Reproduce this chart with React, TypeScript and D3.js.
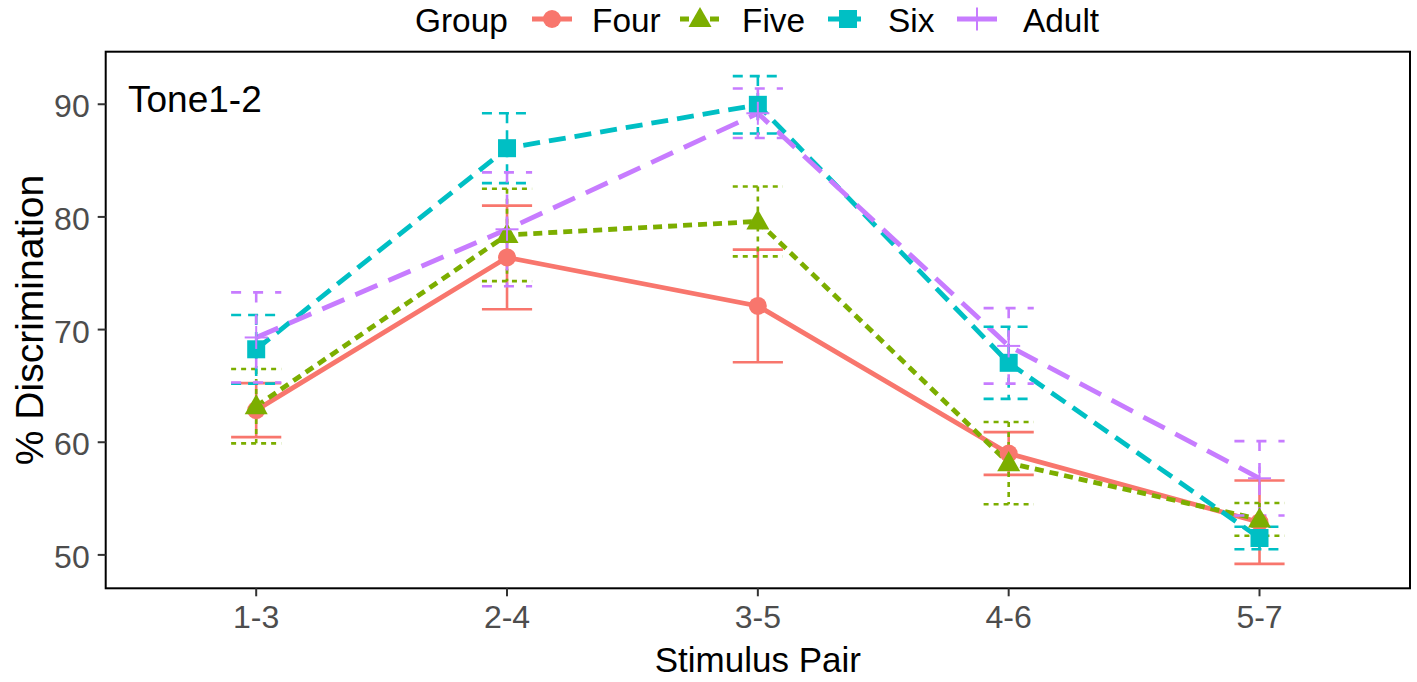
import React from "react";
import * as d3 from "d3";

const categories = ["1-3", "2-4", "3-5", "4-6", "5-7"];
const fourMean = [62.85, 76.4, 72.1, 59.0, 52.9];
const fourSe = [2.4, 4.6, 5.0, 1.9, 3.7];
const fiveMean = [63.2, 78.4, 79.6, 58.15, 53.15];
const fiveSe = [3.3, 4.1, 3.1, 3.65, 1.45];
const sixMean = [68.25, 86.1, 89.95, 67.05, 51.5];
const sixSe = [3.05, 3.1, 2.55, 3.2, 1.0];
const adultMean = [69.3, 78.9, 89.2, 68.55, 56.8];
const adultSe = [4.0, 5.05, 2.2, 3.35, 3.3];
const yTicks = [50, 60, 70, 80, 90];

const series = [
  { name: "Four", mean: fourMean, se: fourSe, color: "#F8766D", dash: "none", ebDash: "none", keyDash: "none", shape: "circle" },
  { name: "Five", mean: fiveMean, se: fiveSe, color: "#7CAE00", dash: "9 6", ebDash: "5 5", keyDash: "9 6", shape: "triangle" },
  { name: "Six", mean: sixMean, se: sixSe, color: "#00BFC4", dash: "17 9", ebDash: "10 7", keyDash: "13 7", shape: "square" },
  { name: "Adult", mean: adultMean, se: adultSe, color: "#C77CFF", dash: "24 12", ebDash: "10 12", keyDash: "none", shape: "cross" },
];

const W = 1417;
const H = 682;
const panel = { left: 105.7, right: 1410, top: 51.7, bottom: 588.3 };
const FONT = "Liberation Sans, Arial, sans-serif";

function Marker({ shape, cx, cy, color }: { shape: string; cx: number; cy: number; color: string }) {
  if (shape === "circle") return <circle cx={cx} cy={cy} r={9} fill={color} />;
  if (shape === "square") return <rect x={cx - 9} y={cy - 9} width={18} height={18} fill={color} />;
  if (shape === "triangle") {
    const s = 11.5;
    const pts = `${cx},${cy - s * 1.05} ${cx - s},${cy + s * 0.7} ${cx + s},${cy + s * 0.7}`;
    return <polygon points={pts} fill={color} />;
  }
  return (
    <g stroke={color} strokeWidth={2}>
      <line x1={cx - 11.5} x2={cx + 11.5} y1={cy} y2={cy} />
      <line x1={cx} x2={cx} y1={cy - 11.5} y2={cy + 11.5} />
    </g>
  );
}

export default function App() {
  const x = d3
    .scalePoint<string>()
    .domain(categories)
    .range([panel.left, panel.right])
    .padding(0.6);
  const yMin = 49.2;
  const yMax = 92.5;
  const ext = (yMax - yMin) * 0.05;
  const y = d3
    .scaleLinear()
    .domain([yMin - ext, yMax + ext])
    .range([panel.bottom, panel.top]);
  const capHalf = (x.step() * 0.2) / 2;

  const line = d3
    .line<number>()
    .x((_, i) => x(categories[i]) as number)
    .y((d) => y(d));

  const legendItems = [
    { keyX: 552, textX: 592 },
    { keyX: 700, textX: 742 },
    { keyX: 848, textX: 888 },
    { keyX: 977, textX: 1023 },
  ];

  return (
    <svg
      width={W}
      height={H}
      style={{ position: "absolute", left: 0, top: 0, background: "#fff" }}
      fontFamily={FONT}
    >
      <rect x={0} y={0} width={W} height={H} fill="#fff" />
      {series.map((s) => (
        <path
          key={"l" + s.name}
          d={line(s.mean) as string}
          fill="none"
          stroke={s.color}
          strokeWidth={4.8}
          strokeDasharray={s.dash}
        />
      ))}
      {series.map((s) => (
        <g key={"e" + s.name} stroke={s.color} strokeWidth={2.6} strokeDasharray={s.ebDash} fill="none">
          {categories.map((c, i) => {
            const cx = x(c) as number;
            const hi = y(s.mean[i] + s.se[i]);
            const lo = y(s.mean[i] - s.se[i]);
            return (
              <g key={c}>
                <line x1={cx - capHalf} x2={cx + capHalf} y1={hi} y2={hi} />
                <line x1={cx} x2={cx} y1={hi} y2={lo} />
                <line x1={cx - capHalf} x2={cx + capHalf} y1={lo} y2={lo} />
              </g>
            );
          })}
        </g>
      ))}
      {series.map((s) => (
        <g key={"p" + s.name}>
          {categories.map((c, i) => (
            <Marker key={c} shape={s.shape} cx={x(c) as number} cy={y(s.mean[i])} color={s.color} />
          ))}
        </g>
      ))}
      <rect
        x={panel.left}
        y={panel.top}
        width={panel.right - panel.left}
        height={panel.bottom - panel.top}
        fill="none"
        stroke="#000"
        strokeWidth={2}
      />
      {yTicks.map((t) => (
        <g key={t}>
          <line x1={panel.left - 8} x2={panel.left} y1={y(t)} y2={y(t)} stroke="#333" strokeWidth={2} />
          <text x={panel.left - 16} y={y(t) + 13} textAnchor="end" fontSize={32} fill="#4D4D4D">
            {t}
          </text>
        </g>
      ))}
      {categories.map((c) => (
        <g key={c}>
          <line x1={x(c)} x2={x(c)} y1={panel.bottom} y2={panel.bottom + 8} stroke="#333" strokeWidth={2} />
          <text x={x(c)} y={panel.bottom + 40} textAnchor="middle" fontSize={32} fill="#4D4D4D">
            {c}
          </text>
        </g>
      ))}
      <text x={(panel.left + panel.right) / 2} y={672} textAnchor="middle" fontSize={35} fill="#000">
        Stimulus Pair
      </text>
      <text
        transform={`translate(43, ${(panel.top + panel.bottom) / 2}) rotate(-90)`}
        textAnchor="middle"
        fontSize={39}
        fill="#000"
      >
        % Discrimination
      </text>
      <text x={128} y={112} fontSize={37} fill="#000">
        Tone1-2
      </text>
      <text x={415} y={32} fontSize={33.4} fill="#000">
        Group
      </text>
      {series.map((s, i) => {
        const it = legendItems[i];
        return (
          <g key={"lg" + s.name}>
            <line
              x1={it.keyX - 20}
              x2={it.keyX + 20}
              y1={19}
              y2={19}
              stroke={s.color}
              strokeWidth={4.8}
              strokeDasharray={s.keyDash}
            />
            <Marker shape={s.shape} cx={it.keyX} cy={19} color={s.color} />
            <text x={it.textX} y={32} fontSize={33.4} fill="#000">
              {s.name}
            </text>
          </g>
        );
      })}
    </svg>
  );
}
